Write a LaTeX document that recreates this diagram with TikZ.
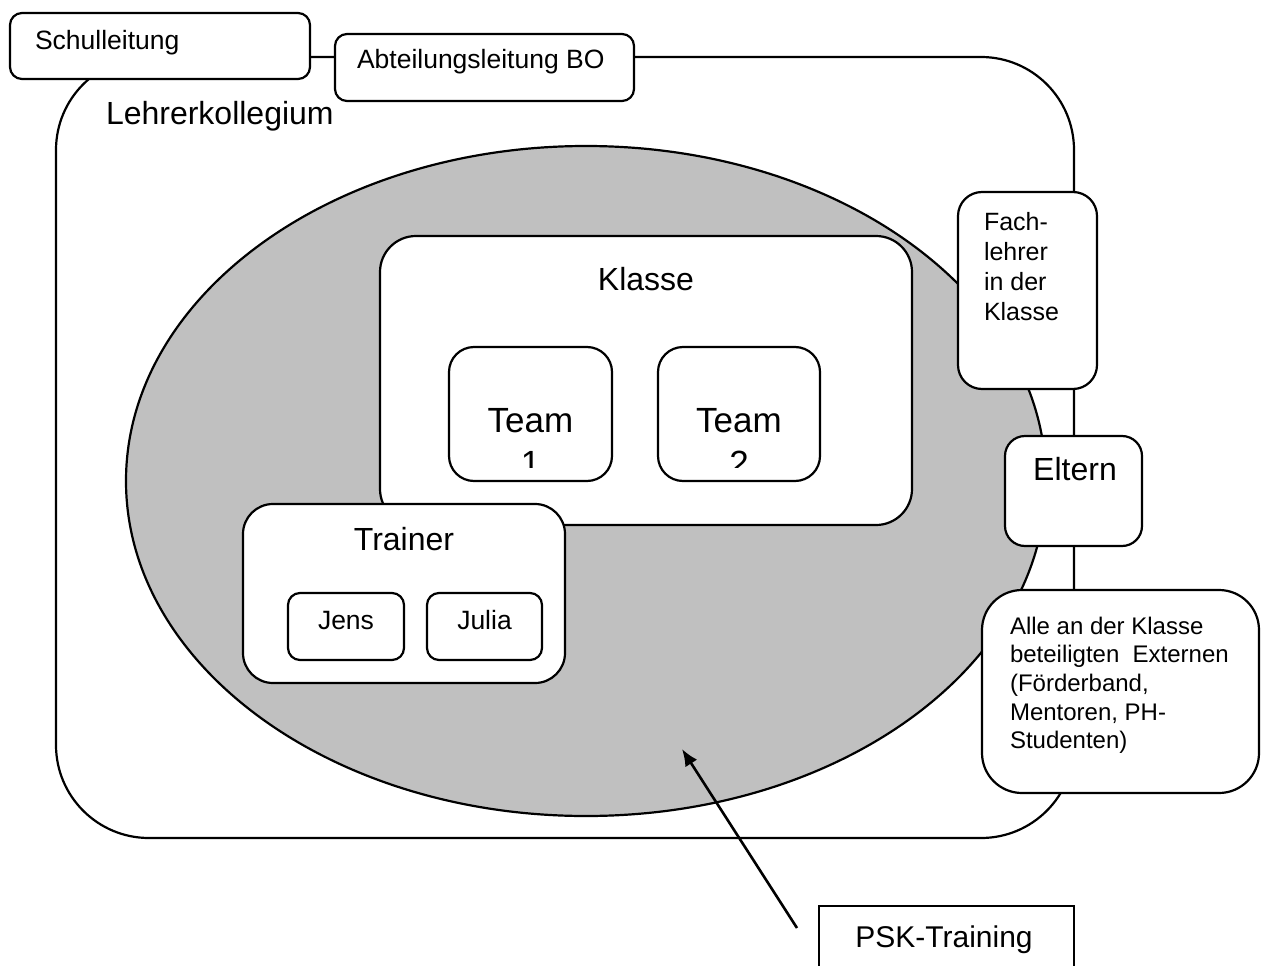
\documentclass[tikz,border=0pt]{standalone}
\usepackage{fontspec}
\setmainfont{Liberation Sans}
\usetikzlibrary{shapes.geometric,arrows.meta}
\definecolor{ellgray}{HTML}{C0C0C0}
\newcommand{\fsz}[2]{\fontsize{#1}{#2}\selectfont}
\begin{document}
\begin{tikzpicture}[x=1pt,y=-1pt,
  lw/.style={line width=2.2pt},
  rbox/.style={draw,lw,fill=white,rectangle,inner sep=0pt,outer sep=0pt},
  txt/.style={inner sep=0pt,outer sep=0pt,anchor=base},
  txtl/.style={inner sep=0pt,outer sep=0pt,anchor=base west},
  arr/.style={line width=2.6pt,-{Latex[length=17pt,width=14pt]}}]
\useasboundingbox (0,0) rectangle (1264,966);
\clip (0,0) rectangle (1264,966);
% outer frame
\node[rbox,rounded corners=93pt,minimum width=1018pt,minimum height=781pt] (kollegium) at (565,447.5) {};
% ellipse
\node[draw,lw,fill=ellgray,ellipse,inner sep=0pt,minimum width=920pt,minimum height=670pt] (psk) at (586,481) {};
% top boxes
\node[rbox,rounded corners=12pt,minimum width=300pt,minimum height=66pt] (schul) at (160,46) {};
\node[rbox,rounded corners=12pt,minimum width=299pt,minimum height=67pt] (abt) at (484.5,67.5) {};
% Klasse
\node[rbox,rounded corners=36pt,minimum width=532pt,minimum height=289pt] (klasse) at (646,380.5) {};
\node[rbox,rounded corners=25pt,minimum width=163pt,minimum height=134pt] (team1) at (530.5,414) {};
\node[rbox,rounded corners=25pt,minimum width=162pt,minimum height=134pt] (team2) at (739,414) {};
% Trainer
\node[rbox,rounded corners=30pt,minimum width=322pt,minimum height=179pt] (trainer) at (404,593.5) {};
\node[rbox,rounded corners=12pt,minimum width=116pt,minimum height=67pt] (jens) at (346,626.5) {};
\node[rbox,rounded corners=12pt,minimum width=115pt,minimum height=67pt] (julia) at (484.5,626.5) {};
% right boxes
\node[rbox,rounded corners=24pt,minimum width=139pt,minimum height=197pt] (fach) at (1027.5,290.5) {};
\node[rbox,rounded corners=20pt,minimum width=137pt,minimum height=110pt] (eltern) at (1073.5,491) {};
\node[rbox,rounded corners=40pt,minimum width=277pt,minimum height=203pt] (alle) at (1120.5,691.5) {};
% PSK box
\node[rbox,minimum width=255pt,minimum height=84pt] (pskbox) at (946.5,948) {};
% arrow
\coordinate (atail) at (797,928);
\coordinate (atip) at (682,749);
\draw[arr] (atail) -- (atip);
% texts
\node[txtl,font=\fsz{26.5}{30}] (tschul) at (35,49.5) {Schulleitung};
\node[txtl,font=\fsz{26.5}{30}] (tabt) at (357,68.5) {Abteilungsleitung BO};
\node[txtl,font=\fsz{32}{36}] (tkoll) at (106,124) {Lehrerkollegium};
\node[txt,font=\fsz{32}{36}] (tklasse) at (646,290) {Klasse};
\node[txt,font=\fsz{35}{40}] (tteam1) at (530.5,432) {Team};
\node[txt,font=\fsz{35}{40}] (tteam2) at (739,432) {Team};
\begin{scope}
\clip (449,440) rectangle (820,467);
\node[txt,font=\fsz{35}{40}] (tnum1) at (530.5,475) {1};
\node[txt,font=\fsz{35}{40}] (tnum2) at (739,475) {2};
\end{scope}
\node[txt,font=\fsz{32}{36}] (ttrainer) at (404,550) {Trainer};
\node[txt,font=\fsz{26.5}{30}] (tjens) at (346,629) {Jens};
\node[txt,font=\fsz{26.5}{30}] (tjulia) at (484.5,629) {Julia};
\node[txtl,font=\fsz{25}{30}] (tfach) at (984,230) {\vtop{\hbox{Fach-}\hbox{lehrer}\hbox{in der}\hbox{Klasse}}};
\node[txt,font=\fsz{32}{36}] (teltern) at (1075,480) {Eltern};
\node[txtl,font=\fsz{24}{28.7}] (talle) at (1010,634) {\vtop{\hbox{Alle an der Klasse}\hbox{beteiligten\ \ Externen}\hbox{(Förderband,}\hbox{Mentoren, PH-}\hbox{Studenten)}}};
\node[txt,font=\fsz{30}{34}] (tpsk) at (944,947) {PSK-Training};
\end{tikzpicture}
\end{document}
